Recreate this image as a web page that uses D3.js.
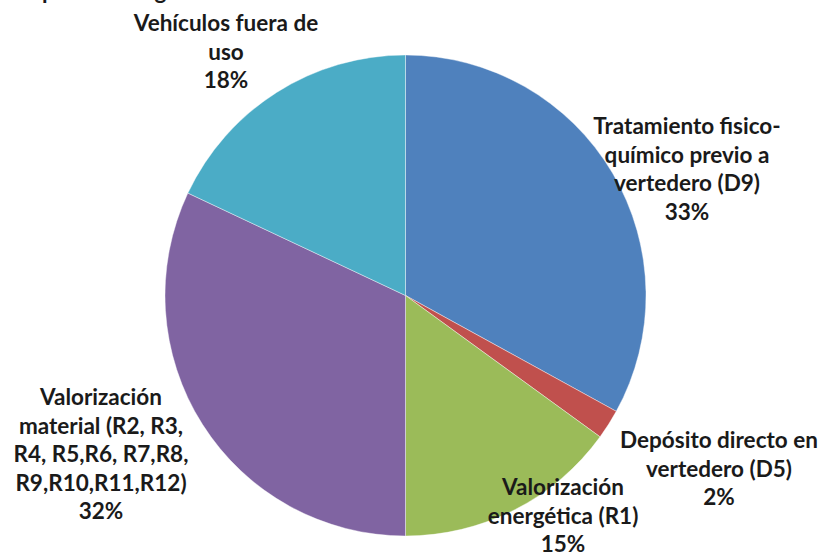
<!DOCTYPE html>
<html>
<head>
<meta charset="utf-8">
<script src="https://cdn.jsdelivr.net/npm/d3@7"></script>
<style>
  body { margin: 0; background: #fff; }
  text { font-family: "Lato", "Open Sans", sans-serif; font-weight: bold; fill: #1a1a1a; }
</style>
</head>
<body>
<div id="chart"></div>
<script>
// Chart data
var categories = [
  "Tratamiento fisico-químico previo a vertedero (D9)",
  "Depósito directo en vertedero (D5)",
  "Valorización energética (R1)",
  "Valorización material (R2, R3, R4, R5,R6, R7,R8, R9,R10,R11,R12)",
  "Vehículos fuera de uso"
];
var values = [33, 2, 15, 32, 18];
var labelLines = [
  ["Tratamiento fisico-", "químico previo a", "vertedero (D9)"],
  ["Depósito directo en", "vertedero (D5)"],
  ["Valorización", "energética (R1)"],
  ["Valorización", "material (R2, R3,", "R4, R5,R6, R7,R8,", "R9,R10,R11,R12)"],
  ["Vehículos fuera de", "uso"]
];
var colors = ["#4F81BD", "#C0504D", "#9BBB59", "#8064A2", "#4BACC6"];

// Layout
var svgWidth = 820;
var svgHeight = 554;
var cx = 405.5, cy = 295.5, radius = 240.5;
var lineHeight = 28.5;
// label anchor: center x and first baseline
var labelAnchors = [
  {x: 687, y: 134},
  {x: 719, y: 448},
  {x: 563, y: 495},
  {x: 101, y: 405},
  {x: 226, y: 31}
];

var svg = d3.select("#chart")
  .append("svg")
  .attr("width", svgWidth)
  .attr("height", svgHeight);

// title, mostly above the top edge (only descenders show)
svg.append("text")
  .attr("x", 24)
  .attr("y", -1)
  .style("font-size", "22.5px")
  .text("Opciones de gestión");

var pie = d3.pie()
  .sort(null)
  .value(d => d);

var arc = d3.arc()
  .innerRadius(0)
  .outerRadius(radius);

var pieGroup = svg.append("g")
  .attr("transform", `translate(${cx}, ${cy})`);

pieGroup.selectAll("path")
  .data(pie(values))
  .enter()
  .append("path")
  .attr("d", arc)
  .attr("fill", (d, i) => colors[i])
  .attr("stroke", "#ffffff")
  .attr("stroke-opacity", 0.5)
  .attr("stroke-width", 0.8);

// labels
var labels = svg.append("g");
values.forEach(function(v, i) {
  var lines = labelLines[i].concat([v + "%"]);
  var t = labels.append("text")
    .attr("text-anchor", "middle")
    .style("font-size", "22.5px");
  lines.forEach(function(line, j) {
    t.append("tspan")
      .attr("x", labelAnchors[i].x)
      .attr("y", labelAnchors[i].y + j * lineHeight)
      .text(line);
  });
});
</script>
</body>
</html>
